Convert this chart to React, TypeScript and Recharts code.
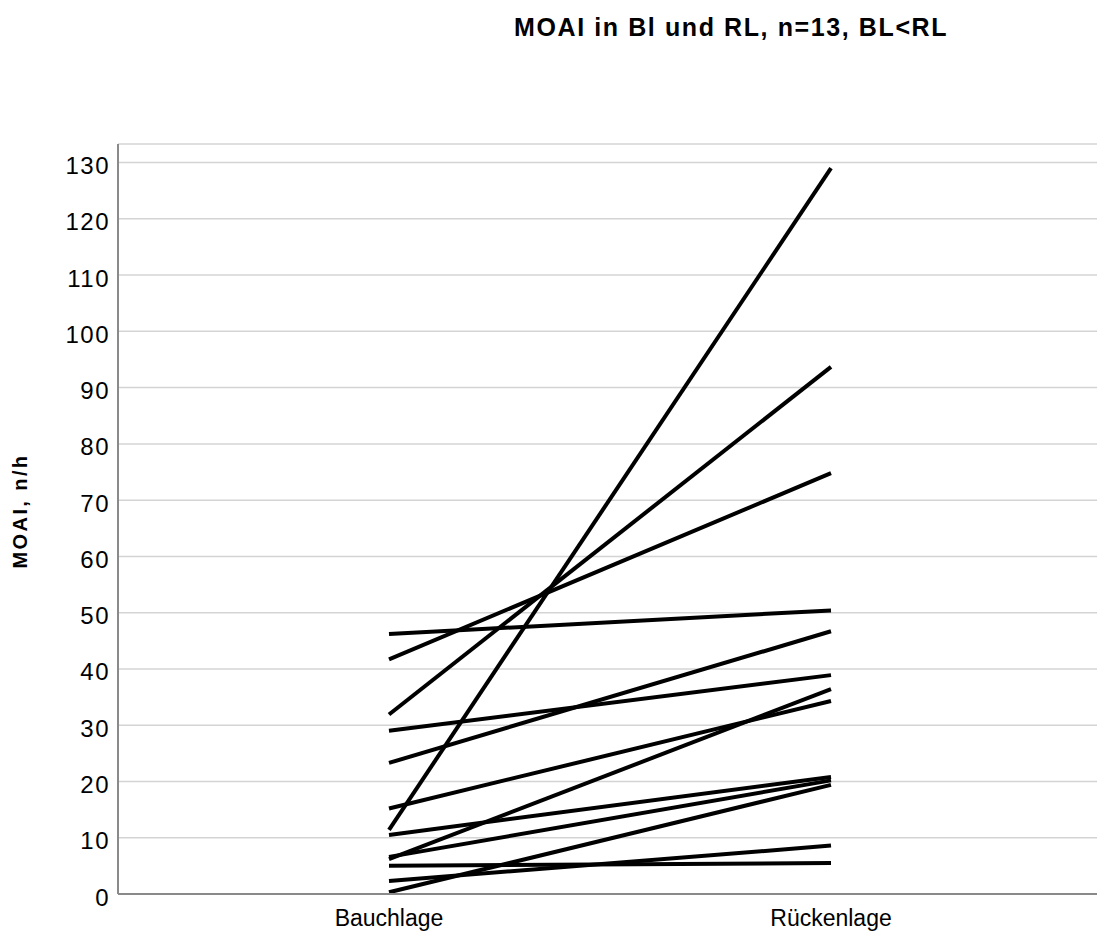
import { LineChart, Line, XAxis, YAxis, CartesianGrid } from 'recharts'

// MOAI (n/h) per subject, prone vs. supine
const positions = ['Bauchlage', 'Rückenlage']
const bauchlage = [46.2, 41.7, 31.9, 29.0, 23.3, 15.2, 11.4, 10.5, 6.6, 6.2, 5.0, 2.3, 0.3]
const rueckenlage = [50.4, 74.8, 93.7, 38.9, 46.7, 34.3, 129.0, 20.8, 20.2, 36.4, 5.5, 8.6, 19.4]
const yTicks = [0, 10, 20, 30, 40, 50, 60, 70, 80, 90, 100, 110, 120, 130]

const font = '"Liberation Sans", Arial, sans-serif'

export default function App() {
  const data = positions.map((name, i) => {
    const row: Record<string, string | number> = { name }
    const src = i === 0 ? bauchlage : rueckenlage
    src.forEach((v, j) => {
      row[`p${j}`] = v
    })
    return row
  })

  return (
    <div style={{ position: 'absolute', left: 0, top: 0, width: 1097, height: 933, background: '#fff', fontFamily: font }}>
      <div
        style={{
          position: 'absolute',
          top: 13,
          left: 514,
          fontSize: 25,
          fontWeight: 'bold',
          letterSpacing: 1.6,
          whiteSpace: 'nowrap',
          color: '#000',
        }}
      >
        MOAI in Bl und RL, n=13, BL&lt;RL
      </div>
      <div
        style={{
          position: 'absolute',
          left: 20,
          top: 511,
          transform: 'translate(-50%, -50%) rotate(-90deg)',
          fontSize: 20,
          fontWeight: 'bold',
          letterSpacing: 2.4,
          whiteSpace: 'nowrap',
          color: '#000',
        }}
      >
        MOAI, n/h
      </div>
      <LineChart width={1097} height={933} data={data} margin={{ top: 144, right: 0, bottom: 0, left: 0 }}>
        <CartesianGrid vertical={false} stroke="#d4d4d4" strokeWidth={1.5} />
        <XAxis
          dataKey="name"
          height={39}
          padding={{ left: 271, right: 266 }}
          axisLine={{ stroke: '#8a8a8a', strokeWidth: 2 }}
          tickLine={false}
          tick={{ fill: '#000', fontSize: 23, fontFamily: font }}
          tickMargin={10}
        />
        <YAxis
          type="number"
          domain={[0, 133.3]}
          ticks={yTicks}
          width={118}
          interval={0}
          axisLine={{ stroke: '#8a8a8a', strokeWidth: 2 }}
          tickLine={false}
          tick={{ fill: '#000', fontSize: 24, fontFamily: font, letterSpacing: 1.5, dy: 3 }}
          tickMargin={2}
        />
        {bauchlage.map((_, j) => (
          <Line
            key={j}
            dataKey={`p${j}`}
            stroke="#000"
            strokeWidth={4}
            dot={false}
            isAnimationActive={false}
          />
        ))}
      </LineChart>
    </div>
  )
}
